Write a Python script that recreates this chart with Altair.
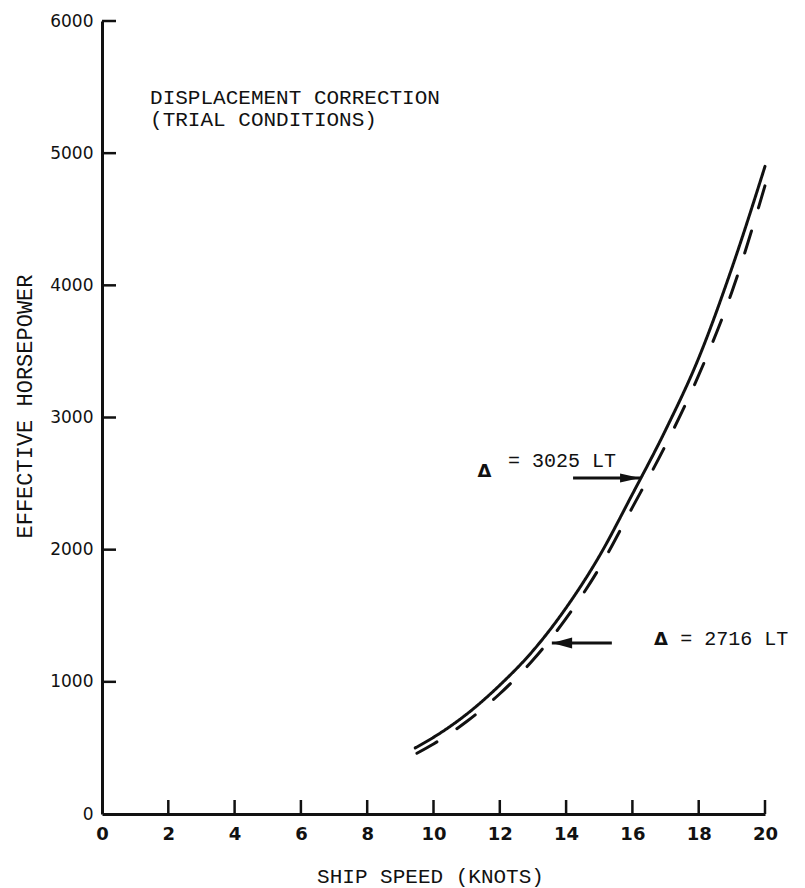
import altair as alt
import pandas as pd

# Effective horsepower vs ship speed at two displacements
speed_3025 = [9.45, 10, 11, 12, 13, 14, 15, 16, 17, 18, 19, 20]
ehp_3025 = [500, 580, 755, 975, 1235, 1560, 1950, 2420, 2905, 3450, 4130, 4900]
speed_2716 = [9.5, 10, 11, 12, 13, 14, 15, 16, 17, 18, 19, 20.1]
ehp_2716 = [460, 530, 700, 910, 1165, 1480, 1860, 2320, 2790, 3320, 3950, 4840]

x_ticks = [0, 2, 4, 6, 8, 10, 12, 14, 16, 18, 20]
y_ticks = [0, 1000, 2000, 3000, 4000, 5000, 6000]

# Annotation text and anchor points (knots, hp)
note_lines = ["DISPLACEMENT CORRECTION", "(TRIAL CONDITIONS)"]
note_x = [1.45, 1.45]
note_y = [5375, 5207]

delta_label = ["= 3025 LT", "= 2716 LT"]
delta_label_x = [12.25, 17.44]
delta_label_y = [2625, 1279]
delta_sym_x = [11.54, 16.86]
delta_sym_y = [2590, 1316]

arrow_tail = [14.21, 15.38]
arrow_tip = [16.23, 13.57]
arrow_y = [2542, 1294]
arrow_head_x = [15.93, 13.88]

TYPE = "Liberation Mono"
INK = "#111111"

curves = pd.DataFrame({
    "speed": speed_3025 + speed_2716,
    "ehp": ehp_3025 + ehp_2716,
    "disp": ["3025 LT"] * len(speed_3025) + ["2716 LT"] * len(speed_2716),
})

x_scale = alt.Scale(domain=[0, 20], nice=False, zero=False)
y_scale = alt.Scale(domain=[0, 6000], nice=False, zero=False)

x_axis = alt.Axis(
    values=x_ticks, title="SHIP SPEED (KNOTS)", grid=False,
    ticks=True, tickSize=0, tickWidth=0,
    domainColor=INK, domainWidth=3,
    labelFont="DejaVu Sans", labelFontSize=18, labelFontWeight="bold",
    labelColor=INK, labelPadding=11, labelFlush=False,
    titleFont=TYPE, titleFontSize=21, titleFontWeight="normal", titleColor=INK,
    titleX=328, titleY=62, titleBaseline="middle", titleAnchor="middle",
    titleAlign="center",
)
y_axis = alt.Axis(
    values=y_ticks, title="EFFECTIVE HORSEPOWER", grid=False, format="d",
    ticks=True, tickSize=0, tickWidth=0,
    domainColor=INK, domainWidth=3,
    labelFont="DejaVu Sans", labelFontSize=17, labelColor=INK,
    labelPadding=9, labelFlush=False,
    titleFont=TYPE, titleFontSize=22, titleFontWeight="normal", titleColor=INK,
    titleX=-78, titleY=385, titleBaseline="middle", titleAlign="center",
    titleAngle=-90,
)

X = lambda f: alt.X(f, scale=x_scale, axis=x_axis)
Y = lambda f: alt.Y(f, scale=y_scale, axis=y_axis)

lines = alt.Chart(curves).mark_line(
    color=INK, strokeWidth=3, interpolate="monotone", strokeCap="round"
).encode(
    x=X("speed:Q"),
    y=Y("ehp:Q"),
    detail="disp:N",
    strokeDash=alt.StrokeDash(
        "disp:N",
        scale=alt.Scale(domain=["3025 LT", "2716 LT"], range=[[1, 0], [23, 24]]),
        legend=None,
    ),
)

# Inward tick marks on both axes
y_tick_rules = alt.Chart(pd.DataFrame({"v": y_ticks[1:]})).mark_rule(
    color=INK, strokeWidth=2.5
).encode(
    y=Y("v:Q"),
    x=alt.value(0), x2=alt.value(14),
)
x_tick_rules = alt.Chart(pd.DataFrame({"v": x_ticks[1:]})).mark_rule(
    color=INK, strokeWidth=2.5
).encode(
    x=X("v:Q"),
    y=alt.value(793), y2=alt.value(779),
)

notes = alt.Chart(pd.DataFrame({"t": note_lines, "x": note_x, "y": note_y})).mark_text(
    font=TYPE, fontSize=21, color=INK, align="left", baseline="alphabetic",
).encode(
    x=X("x:Q"),
    y=Y("y:Q"),
    text="t:N",
)

labels = alt.Chart(pd.DataFrame({
    "t": delta_label, "x": delta_label_x, "y": delta_label_y,
})).mark_text(
    font=TYPE, fontSize=20, color=INK, align="left", baseline="alphabetic",
).encode(
    x=X("x:Q"),
    y=Y("y:Q"),
    text="t:N",
)

deltas = alt.Chart(pd.DataFrame({
    "t": ["Δ", "Δ"], "x": delta_sym_x, "y": delta_sym_y,
})).mark_text(
    font="DejaVu Sans", fontSize=18, fontWeight="bold", color=INK,
    align="center", baseline="middle",
).encode(
    x=X("x:Q"),
    y=Y("y:Q"),
    text="t:N",
)

arrows = pd.DataFrame({
    "tail": arrow_tail, "tip": arrow_tip, "y": arrow_y, "head": arrow_head_x,
    "dir": ["right", "left"],
})
shafts = alt.Chart(arrows).mark_rule(color=INK, strokeWidth=3).encode(
    x=X("tail:Q"),
    x2="tip:Q",
    y=Y("y:Q"),
)
heads = alt.Chart(arrows).mark_point(
    filled=True, color=INK, opacity=1, size=400,
).encode(
    x=X("head:Q"),
    y=Y("y:Q"),
    shape=alt.Shape(
        "dir:N",
        scale=alt.Scale(
            domain=["right", "left"],
            range=["M-1,-0.45L1,0L-1,0.45Z", "M1,-0.55L-1,0L1,0.55Z"],
        ),
        legend=None,
    ),
)

chart = alt.layer(
    lines, y_tick_rules, x_tick_rules, notes, labels, deltas, shafts, heads
).properties(
    width=663,
    height=793,
    padding={"left": 102, "top": 21, "right": 40, "bottom": 74},
    autosize=alt.AutoSizeParams(type="none"),
).configure(background="white").configure_view(stroke=None)

chart.save("out.html", embed_options={"renderer": "svg", "actions": False})
